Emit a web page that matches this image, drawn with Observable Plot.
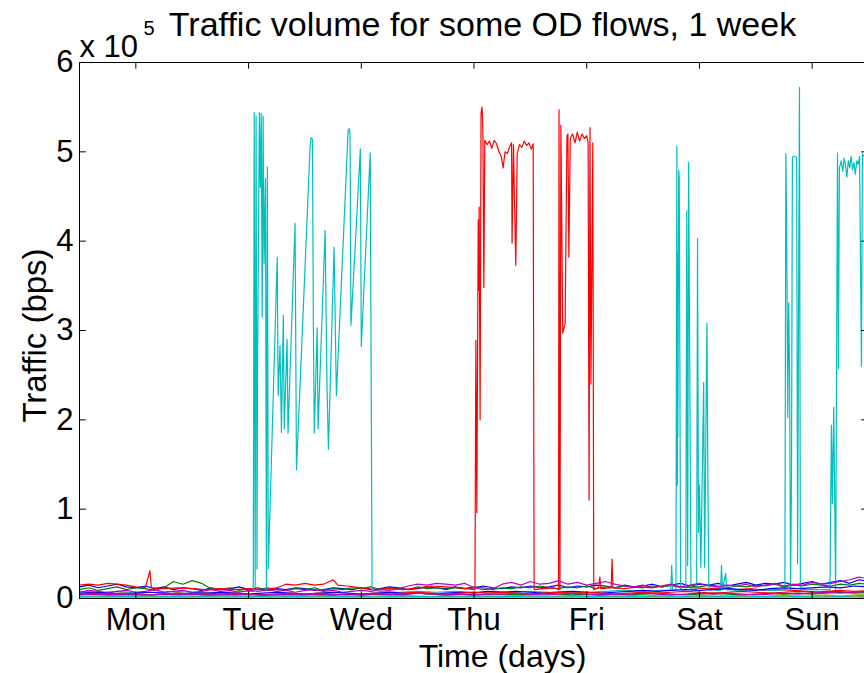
<!DOCTYPE html>
<html>
<head>
<meta charset="utf-8">
<script src="https://cdn.jsdelivr.net/npm/d3@7"></script>
<script src="https://cdn.jsdelivr.net/npm/@observablehq/plot@0.6"></script>
<style>
  html, body { margin: 0; padding: 0; background: white; overflow: hidden; }
</style>
</head>
<body>
<div id="chart"></div>
<script>
// ---------- text ----------
const titleText = "Traffic volume for some OD flows, 1 week";
const xLabel = "Time (days)";
const yLabel = "Traffic (bps)";
const expText = "x 10";
const expPower = "5";

// ---------- ticks ----------
const dayNames = ["Mon", "Tue", "Wed", "Thu", "Fri", "Sat", "Sun"];
const dayTicks = [12, 36, 60, 84, 108, 132, 156];   // hours (noon of each day)
const yTicks = [0, 1, 2, 3, 4, 5, 6];                // x 10^5 bps

// ---------- background flows (values in 10^5 bps) ----------
const hours2 = d3.range(0, 169, 2);   // sampled every 2 hours
const hours3 = d3.range(0, 169, 3);   // sampled every 3 hours

const blueVals = [0.13,0.15,0.12,0.14,0.16,0.13,0.12,0.14,0.11,0.13,
  0.10,0.12,0.11,0.09,0.12,0.10,0.11,0.13,0.10,0.12,
  0.09,0.11,0.10,0.12,0.11,0.09,0.10,0.12,0.11,0.10,
  0.12,0.10,0.11,0.13,0.12,0.10,0.11,0.13,0.12,0.11,
  0.13,0.11,0.12,0.14,0.12,0.11,0.13,0.12,0.14,0.12,
  0.13,0.15,0.12,0.14,0.13,0.15,0.14,0.12,0.15,0.13,
  0.14,0.16,0.13,0.15,0.17,0.14,0.16,0.15,0.17,0.14,
  0.16,0.18,0.15,0.17,0.16,0.18,0.15,0.17,0.19,0.16,
  0.18,0.20,0.17,0.21,0.19];

const greenVals = [0.10,0.12,0.09,0.11,0.13,0.10,0.12,0.11,0.09,0.12,
  0.19,0.16,0.20,0.17,0.11,0.10,0.12,0.09,0.11,0.10,
  0.12,0.10,0.09,0.11,0.10,0.12,0.09,0.11,0.10,0.12,
  0.11,0.13,0.10,0.12,0.11,0.10,0.13,0.11,0.12,0.10,
  0.12,0.11,0.13,0.12,0.10,0.12,0.11,0.13,0.12,0.14,
  0.12,0.11,0.13,0.12,0.14,0.11,0.13,0.12,0.14,0.13,
  0.12,0.14,0.13,0.15,0.12,0.14,0.13,0.15,0.14,0.12,
  0.14,0.13,0.15,0.14,0.16,0.13,0.15,0.14,0.16,0.15,
  0.14,0.16,0.15,0.17,0.16];

const magentaVals = [0.07,0.09,0.08,0.06,0.08,0.09,0.07,0.08,0.10,0.07,
  0.08,0.09,0.07,0.08,0.10,0.08,0.09,0.07,0.09,0.08,
  0.10,0.08,0.09,0.07,0.09,0.10,0.08,0.09,0.07,0.08,
  0.09,0.08,0.10,0.09,0.11,0.14,0.16,0.15,0.17,0.16,
  0.15,0.17,0.12,0.10,0.11,0.16,0.18,0.15,0.19,0.16,
  0.17,0.20,0.16,0.18,0.15,0.17,0.19,0.16,0.14,0.13,
  0.15,0.12,0.14,0.16,0.13,0.15,0.17,0.14,0.13,0.15,
  0.14,0.16,0.13,0.15,0.17,0.14,0.16,0.15,0.18,0.16,
  0.17,0.19,0.21,0.24,0.22];

const yellowVals = [0.03,0.02,0.03,0.04,0.03,0.02,0.03,0.03,0.02,0.03,
  0.04,0.03,0.02,0.03,0.03,0.04,0.03,0.02,0.03,0.03,
  0.02,0.03,0.04,0.03,0.03,0.02,0.03,0.04,0.03,0.02,
  0.03,0.04,0.03,0.02,0.03,0.03,0.04,0.03,0.02,0.03,
  0.04,0.03,0.03,0.02,0.03,0.04,0.03,0.03,0.02,0.03,
  0.04,0.03,0.03,0.04,0.03,0.04,0.05];

const grayVals = [0.015,0.012,0.015,0.018,0.015,0.012,0.015,0.014,0.012,0.015,
  0.016,0.014,0.012,0.015,0.014,0.016,0.015,0.012,0.014,0.015,
  0.012,0.014,0.016,0.015,0.014,0.012,0.015,0.016,0.014,0.012,
  0.015,0.016,0.014,0.012,0.015,0.014,0.016,0.015,0.012,0.014,
  0.016,0.015,0.014,0.012,0.015,0.016,0.014,0.015,0.012,0.014,
  0.016,0.015,0.014,0.016,0.015,0.017,0.018];

const blue2Vals = [0.06,0.07,0.06,0.05,0.06,0.07,0.06,0.05,0.06,0.06,
  0.07,0.06,0.05,0.06,0.07,0.06,0.05,0.06,0.07,0.06,
  0.05,0.06,0.07,0.06,0.06,0.05,0.06,0.07,0.06,0.08,
  0.07,0.08,0.07,0.06,0.07,0.08,0.07,0.06,0.07,0.08,
  0.09,0.08,0.09,0.10,0.09,0.10,0.11,0.10,0.09,0.11,
  0.12,0.11,0.12,0.13,0.12,0.14,0.13];

const green2Vals = [0.05,0.04,0.05,0.04,0.05,0.04,0.05,0.06,0.05,0.04,
  0.05,0.04,0.05,0.04,0.04,0.05,0.04,0.05,0.04,0.05,
  0.04,0.05,0.04,0.05,0.06,0.05,0.04,0.05,0.04,0.05,
  0.05,0.04,0.05,0.06,0.05,0.04,0.05,0.04,0.05,0.04,
  0.05,0.06,0.05,0.04,0.05,0.06,0.05,0.04,0.05,0.06,
  0.05,0.06,0.05,0.06,0.07,0.06,0.07];

const red2Vals = [0.05,0.06,0.05,0.06,0.05,0.04,0.05,0.06,0.05,0.06,
  0.05,0.06,0.05,0.04,0.05,0.06,0.05,0.06,0.05,0.04,
  0.05,0.06,0.05,0.06,0.07,0.06,0.05,0.06,0.07,0.06,
  0.07,0.06,0.05,0.06,0.07,0.06,0.07,0.06,0.05,0.06,
  0.07,0.06,0.07,0.08,0.07,0.06,0.07,0.08,0.07,0.06,
  0.07,0.08,0.07,0.08,0.09,0.08,0.09];

const cyan2Vals = [0.02,0.02,0.03,0.02,0.02,0.03,0.02,0.02,0.03,0.02,
  0.02,0.03,0.02,0.02,0.03,0.02,0.02,0.03,0.02,0.02,
  0.03,0.02,0.02,0.03,0.02,0.02,0.03,0.02,0.02,0.03,
  0.02,0.02,0.03,0.02,0.02,0.03,0.02,0.02,0.03,0.02,
  0.02,0.03,0.02,0.02,0.03,0.02,0.02,0.03,0.02,0.02,
  0.03,0.02,0.02,0.03,0.02,0.03,0.04];

const magenta2Vals = [0.04,0.05,0.04,0.05,0.04,0.04,0.05,0.04,0.05,0.04,
  0.04,0.05,0.04,0.04,0.05,0.04,0.05,0.04,0.04,0.05,
  0.04,0.05,0.05,0.04,0.06,0.05,0.04,0.05,0.04,0.05,
  0.05,0.06,0.05,0.04,0.05,0.06,0.05,0.04,0.05,0.05,
  0.06,0.05,0.04,0.05,0.06,0.05,0.06,0.05,0.04,0.05,
  0.06,0.05,0.06,0.07,0.06,0.07,0.08];

const yellow2Vals = [0.01,0.012,0.01,0.011,0.01,0.012,0.01,0.009,0.011,0.01,
  0.012,0.01,0.011,0.01,0.009,0.011,0.01,0.012,0.01,0.011,
  0.01,0.012,0.011,0.01,0.009,0.011,0.01,0.012,0.01,0.011,
  0.01,0.009,0.011,0.01,0.012,0.01,0.011,0.01,0.009,0.011,
  0.01,0.012,0.011,0.01,0.012,0.011,0.01,0.012,0.011,0.01,
  0.012,0.011,0.013,0.012,0.011,0.013,0.014];

// ---------- the two bursty flows (hours, 10^5 bps) ----------
const redHours = [0,2,4,6,8,10,12,14,15,15.3,18,21,24,27,30,33,36,39,42,44,46,48,50,52,54,55,57,60,63,66,69,72,75,78,81,84.2,
  84.4,84.6,84.9,85.0,85.1,85.3,85.5,85.7,85.8,85.9,86.1,86.3,86.8,87.3,87.8,88.3,88.8,89.3,89.8,90.2,90.6,91.1,91.6,92.0,92.1,92.4,92.9,93.2,93.7,94.2,94.7,95.2,95.7,96.2,96.6,96.8,
  99,101,102.0,102.1,102.3,102.5,102.9,103.4,103.8,104.0,104.2,104.5,105,105.5,106,106.5,107,107.5,108,108.3,108.5,108.7,108.9,109.3,109.5,
  110.5,110.8,111,113.2,113.4,113.6,116,119,122,125,128,131,134,137,140,143,146,149,152,155,158,161,164,168];
const redVals = [0.15,0.16,0.15,0.17,0.16,0.15,0.13,0.12,0.31,0.12,0.11,0.12,0.11,0.10,0.11,0.10,0.11,0.10,0.12,0.16,0.15,0.17,0.15,0.16,0.21,0.15,0.14,0.12,0.10,0.11,0.10,0.12,0.14,0.13,0.12,0.10,
  2.89,0.96,4.24,3.45,4.38,2.00,5.43,5.50,5.39,5.20,3.48,5.13,5.08,5.12,5.04,5.13,5.09,5.00,4.95,4.82,5.00,4.98,5.06,5.10,3.98,5.08,3.73,4.98,5.08,5.05,5.12,5.07,5.10,5.03,5.09,0.10,
  0.11,0.12,0.10,5.47,0.10,5.30,2.97,3.08,5.18,5.20,3.82,5.15,5.20,5.10,5.22,5.12,5.20,5.15,5.18,5.10,1.10,5.27,2.40,5.10,0.10,
  0.12,0.24,0.11,0.12,0.44,0.12,0.11,0.13,0.12,0.15,0.13,0.12,0.11,0.12,0.10,0.11,0.09,0.10,0.09,0.08,0.07,0.08,0.07,0.08];

const cyanHours = [0,4,8,12,16,20,24,28,32,36,37.0,
  37.2,37.4,37.6,37.8,37.9,38.3,38.5,38.7,38.9,39.1,39.3,39.6,39.8,40.0,40.2,42.1,42.3,42.7,43.0,43.4,43.6,44.2,44.4,45.9,46.2,
  49.1,49.3,49.6,49.8,50.0,50.6,50.8,52.3,52.7,53.0,54.2,54.7,57.2,57.4,57.6,57.8,59.8,60.0,61.9,62.3,
  64,68,72,76,80,84,88,92,96,100,104,108,112,116,120,124,125.9,
  126.1,126.3,127.0,127.2,127.3,127.35,127.4,127.6,127.7,128.0,129.1,129.3,129.5,129.7,130.2,131.4,131.6,131.8,132.0,132.3,132.9,133.1,133.6,133.8,134.0,
  136.5,136.7,136.9,137.6,137.8,140,144,148,150.2,
  150.4,150.6,150.8,151.0,151.2,151.4,151.6,151.8,152.2,152.7,152.9,153.3,153.5,156,159.8,
  160.1,160.3,160.6,161.0,161.4,161.6,161.8,162.2,162.5,162.8,163.1,163.4,163.7,164.0,164.3,164.6,164.9,165.2,165.5,165.8,166.1,166.5,166.7,167];
const cyanVals = [0.08,0.07,0.08,0.06,0.07,0.08,0.07,0.06,0.07,0.08,0.08,
  5.44,0.12,5.40,0.33,2.50,5.44,4.60,5.43,3.15,5.40,3.75,4.70,0.10,4.83,0.33,3.82,2.27,2.83,1.86,3.17,1.90,2.90,1.85,4.20,1.44,
  5.05,5.16,5.14,3.03,1.85,3.03,1.90,4.12,2.38,1.67,3.93,2.27,5.24,5.26,5.20,3.06,5.03,2.82,4.99,0.10,
  0.08,0.07,0.08,0.07,0.08,0.07,0.08,0.07,0.08,0.07,0.08,0.07,0.08,0.09,0.08,0.09,0.09,
  0.37,0.09,0.10,5.06,1.27,3.87,1.80,4.79,4.70,0.10,0.10,4.34,0.37,4.88,0.10,0.10,4.03,0.74,1.27,0.35,2.42,0.35,3.08,1.34,0.10,
  0.09,0.37,0.10,0.28,0.10,0.09,0.10,0.09,0.10,
  4.98,4.00,2.03,3.31,2.50,0.10,1.35,4.94,4.95,4.94,0.39,5.72,0.10,0.10,0.10,
  1.94,1.06,2.14,0.10,4.99,2.57,4.82,4.90,4.78,4.93,4.85,4.72,4.90,4.82,4.95,4.80,4.88,4.75,4.90,4.86,4.95,2.60,4.98,4.95];

// MATLAB default color order: b g r c m y k
const series = [
  {color: "#0000ff", hours: hours2, values: blueVals},
  {color: "#008000", hours: hours2, values: greenVals},
  {color: "#ff0000", hours: redHours, values: redVals},
  {color: "#00bfbf", hours: cyanHours, values: cyanVals},
  {color: "#bf00bf", hours: hours2, values: magentaVals},
  {color: "#bfbf00", hours: hours3, values: yellowVals},
  {color: "#404040", hours: hours3, values: grayVals},
  {color: "#0000ff", hours: hours3, values: blue2Vals},
  {color: "#008000", hours: hours3, values: green2Vals},
  {color: "#ff0000", hours: hours3, values: red2Vals},
  {color: "#00bfbf", hours: hours3, values: cyan2Vals},
  {color: "#bf00bf", hours: hours3, values: magenta2Vals},
  {color: "#bfbf00", hours: hours3, values: yellow2Vals}
];

const lineMarks = series.map(s =>
  Plot.line(s.hours.map((h, i) => ({h, v: s.values[i]})),
    {x: "h", y: "v", stroke: s.color, strokeWidth: 1.2, clip: true})
);

const font = "'Liberation Sans', Arial, Helvetica, sans-serif";

const chart = Plot.plot({
  width: 864,
  height: 673,
  marginLeft: 79,
  marginTop: 62,
  marginBottom: 75,
  marginRight: -4,
  style: {fontFamily: font, background: "white", color: "black"},
  x: {domain: [0, 168]},
  y: {domain: [0, 6]},
  marks: [
    ...lineMarks,
    Plot.frame({stroke: "black", strokeWidth: 1}),
    // inward tick marks on all four sides
    Plot.ruleX(dayTicks, {x: d => d, y1: 0, y2: 0.075, stroke: "black", strokeWidth: 1}),
    Plot.ruleX(dayTicks, {x: d => d, y1: 6, y2: 5.925, stroke: "black", strokeWidth: 1}),
    Plot.ruleY(yTicks, {y: d => d, x1: 0, x2: 1.45, stroke: "black", strokeWidth: 1}),
    Plot.ruleY(yTicks, {y: d => d, x1: 168, x2: 166.55, stroke: "black", strokeWidth: 1}),
    Plot.axisX({ticks: dayTicks, tickFormat: d => dayNames[dayTicks.indexOf(d)], tickSize: 0, tickPadding: 9, fontSize: 31, label: null}),
    Plot.axisY({ticks: yTicks, tickFormat: d => String(d), tickSize: 0, tickPadding: 6, fontSize: 31, label: null}),
    Plot.text([titleText], {text: d => d, frameAnchor: "top", dx: 8.5, dy: -27, lineAnchor: "bottom", fontSize: 34}),
    Plot.text([expText], {text: d => d, frameAnchor: "top-left", textAnchor: "start", dx: 0, dy: -6, lineAnchor: "bottom", fontSize: 31}),
    Plot.text([expPower], {text: d => d, frameAnchor: "top-left", textAnchor: "start", dx: 64, dy: -28, lineAnchor: "bottom", fontSize: 20}),
    Plot.text([xLabel], {text: d => d, frameAnchor: "bottom", textAnchor: "middle", dx: 28.5, dy: 68, lineAnchor: "bottom", fontSize: 32}),
    Plot.text([yLabel], {text: d => d, frameAnchor: "left", textAnchor: "middle", rotate: -90, dx: -44, dy: 5, lineAnchor: "middle", fontSize: 33})
  ]
});

document.getElementById("chart").appendChild(chart);
</script>
</body>
</html>
